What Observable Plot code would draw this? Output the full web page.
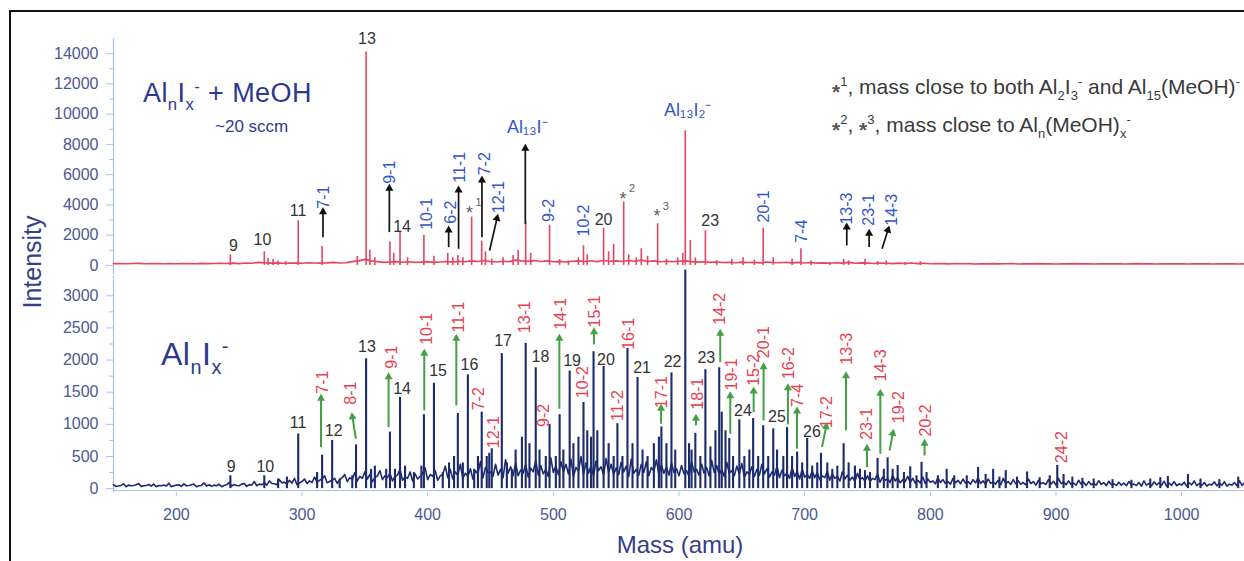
<!DOCTYPE html>
<html><head><meta charset="utf-8">
<script src="https://cdn.jsdelivr.net/npm/d3@7"></script>
<script src="https://cdn.jsdelivr.net/npm/@observablehq/plot@0.6"></script>
<style>
body{margin:0;background:#fff;}
#wrap{position:relative;width:1244px;height:561px;overflow:hidden;background:#fff;font-family:"Liberation Sans",Arial,sans-serif;}
.abs{position:absolute;white-space:nowrap;line-height:1;}
.sub{font-size:62%;position:relative;top:0.45em;}
.sup{font-size:62%;position:relative;top:-0.6em;}
.ast{position:relative;top:0.25em;font-weight:bold;color:#555;}
</style></head>
<body>
<div id="wrap">
  <div style="position:absolute;left:9px;top:10px;width:1400px;height:800px;border:2px solid #111;"></div>
  <div id="topPlot" style="position:absolute;left:0;top:0;width:1244px;"></div>
  <div id="bottomPlot" style="position:absolute;left:0;top:274px;width:1244px;"></div>
  <div class="abs" style="left:143px;top:80px;font-size:27px;color:#2b3a8c;letter-spacing:0.4px;">Al<span class="sub">n</span>I<span class="sub">x</span><span class="sup">-</span> + MeOH</div>
  <div class="abs" style="left:215px;top:118px;font-size:17px;color:#2b3a8c;">~20 sccm</div>
  <div class="abs" style="left:161px;top:338px;font-size:32px;color:#2b3a8c;letter-spacing:0.5px;">Al<span class="sub">n</span>I<span class="sub">x</span><span class="sup">-</span></div>
  <div class="abs" style="left:832px;top:76px;font-size:21px;color:#3a3a3a;"><span class="ast">*</span><span class="sup">1</span>, mass close to both Al<span class="sub">2</span>I<span class="sub">3</span><span class="sup">-</span> and Al<span class="sub">15</span>(MeOH)<span class="sup">-</span></div>
  <div class="abs" style="left:832px;top:114px;font-size:21px;color:#3a3a3a;"><span class="ast">*</span><span class="sup">2</span>, <span class="ast">*</span><span class="sup">3</span>, mass close to Al<span class="sub">n</span>(MeOH)<span class="sub">x</span><span class="sup">-</span></div>
  <div class="abs" style="left:680px;top:533px;font-size:24px;color:#34408a;transform:translateX(-50%);">Mass (amu)</div>
  <div class="abs" style="left:32px;top:262px;font-size:25px;color:#34408a;transform:translate(-50%,-50%) rotate(-90deg);">Intensity</div>
</div>
<script>
// ---------- data ----------
const massTicks = [200, 300, 400, 500, 600, 700, 800, 900, 1000];
const topTicks = [0, 2000, 4000, 6000, 8000, 10000, 12000, 14000];
const topMinorTicks = [1000, 3000, 5000, 7000, 9000, 11000, 13000];
const bottomTicks = [0, 500, 1000, 1500, 2000, 2500, 3000];
const bottomMinorTicks = [250, 750, 1250, 1750, 2250, 2750];

// top spectrum (AlnIx- + MeOH): peak masses and heights
const topPeakMass = [243, 270, 273, 277, 281, 287, 297, 316, 344, 351, 354, 358, 370, 373, 378, 384, 397, 405, 416, 420, 424, 428, 435, 443, 446, 451, 460, 468, 472, 478, 482, 497, 505, 512, 520, 524, 527, 540, 544, 548, 556, 560, 566, 570, 575, 583, 590, 599, 603, 605, 609, 613, 621, 630, 642, 651, 660, 667, 675, 690, 697, 705, 720, 731, 735, 748, 758, 765, 780, 792];
const topPeakHeight = [700, 900, 450, 400, 300, 250, 2950, 1250, 600, 14100, 1000, 500, 1550, 800, 2200, 500, 2000, 600, 800, 500, 650, 500, 3200, 1600, 900, 400, 500, 650, 1000, 2850, 800, 2650, 400, 300, 500, 1300, 700, 2450, 900, 1400, 4200, 700, 500, 1100, 600, 2750, 400, 500, 800, 8900, 1650, 500, 2300, 300, 400, 500, 350, 2450, 500, 400, 1100, 300, 200, 400, 300, 400, 250, 300, 200, 250];
// top baseline, one value every 5 amu from 150
const topNoise = [120, 130, 110, 125, 135, 115, 120, 130, 110, 125,
  115, 130, 120, 110, 135, 120, 125, 140, 130, 150,
  120, 160, 140, 200, 180, 150, 170, 140, 160, 150,
  140, 180, 160, 150, 170, 200, 160, 180, 250, 300,
  400, 300, 250, 200, 230, 250, 210, 240, 200, 220,
  250, 200, 230, 260, 220, 280, 240, 300, 260, 320,
  260, 230, 280, 250, 350, 300, 270, 320, 260, 300,
  240, 270, 230, 280, 300, 260, 310, 250, 330, 280,
  300, 260, 320, 280, 350, 260, 300, 240, 280, 250,
  280, 300, 250, 220, 240, 200, 230, 190, 210, 180,
  220, 190, 200, 170, 230, 190, 180, 210, 170, 200,
  160, 190, 150, 170, 140, 180, 150, 200, 140, 170,
  150, 130, 160, 140, 120, 150, 130, 160, 120, 140,
  110, 130, 120, 100, 125, 110, 120, 95, 115, 105,
  120, 100, 110, 125, 95, 115, 105, 120, 100, 110,
  95, 115, 105, 120, 100, 110, 95, 115, 105, 100,
  110, 95, 105, 120, 100, 110, 95, 105, 115, 100,
  105, 95, 115, 100, 110, 95, 105, 100, 110, 95,
  100];

// bottom spectrum (AlnIx-)
const bottomPeakMass = [243, 270, 281, 288, 297, 312, 316, 324, 330, 340, 343, 351, 355, 358, 367, 370, 374, 378, 382, 389, 395, 397, 405, 412, 417, 421, 424, 428, 432, 437, 440, 443, 447, 449, 451, 459, 463, 467, 470, 475, 478, 481, 486, 489, 494, 497, 502, 505, 508, 513, 516, 520, 524, 527, 530, 532, 535, 540, 544, 548, 551, 555, 559, 563, 567, 571, 575, 580, 584, 586, 590, 594, 597, 605, 608, 610, 613, 617, 621, 625, 629, 632, 634, 637, 640, 643, 648, 652, 656, 659, 663, 667, 671, 675, 678, 683, 686, 690, 694, 698, 702, 706, 710, 713, 718, 722, 726, 731, 735, 740, 744, 748, 752, 758, 763, 766, 770, 774, 779, 784, 789, 793, 797, 806, 813, 819, 829, 838, 844, 850, 855, 860, 869, 877, 887, 895, 901, 906, 913, 921, 930, 945, 960, 975, 983, 989, 1005, 1015, 1030, 1045];
const bottomPeakHeight = [200, 200, 150, 180, 850, 250, 520, 750, 150, 200, 680, 2020, 300, 350, 300, 880, 300, 1420, 350, 250, 350, 1150, 1640, 250, 400, 500, 1170, 400, 1770, 300, 500, 1190, 500, 550, 620, 2100, 400, 300, 600, 800, 2260, 700, 1880, 600, 500, 1000, 500, 1150, 600, 1830, 700, 800, 1340, 900, 800, 2130, 900, 1900, 700, 500, 1010, 500, 2180, 700, 1730, 600, 500, 700, 800, 960, 700, 1800, 600, 3400, 700, 600, 860, 500, 1850, 650, 900, 1880, 1190, 900, 780, 500, 1070, 500, 600, 1090, 500, 980, 500, 930, 600, 500, 950, 500, 570, 400, 780, 350, 400, 550, 400, 300, 350, 700, 400, 350, 300, 280, 250, 470, 300, 480, 300, 360, 250, 340, 200, 410, 250, 200, 300, 200, 200, 330, 220, 300, 180, 280, 180, 260, 170, 200, 360, 220, 180, 160, 150, 140, 130, 150, 170, 190, 220, 150, 140, 180];
// bottom baseline, one value every 4 amu from 150
const bottomNoise = [60, 40, 75, 55, 50, 80, 45, 65, 70, 50,
  55, 85, 45, 60, 75, 50, 70, 45, 90, 60,
  55, 70, 50, 95, 65, 45, 80, 60, 110, 70,
  90, 120, 75, 140, 100, 130, 160, 90, 150, 120,
  180, 130, 200, 110, 160, 140, 220, 170, 250, 190,
  260, 220, 170, 280, 200, 240, 190, 300, 180, 260,
  230, 190, 320, 220, 280, 200, 350, 300, 260, 380,
  240, 310, 280, 420, 330, 260, 380, 300, 450, 340,
  400, 290, 380, 320, 440, 360, 300, 480, 350, 420,
  380, 460, 330, 500, 400, 360, 430, 340, 470, 380,
  320, 410, 350, 460, 300, 380, 420, 330, 450, 370,
  340, 400, 310, 360, 280, 420, 300, 380, 330, 440,
  360, 300, 410, 280, 350, 390, 260, 340, 300, 380,
  310, 260, 350, 290, 240, 330, 270, 300, 220, 280,
  250, 200, 270, 230, 190, 260, 210, 180, 240, 170,
  200, 160, 230, 180, 150, 210, 170, 140, 190, 160,
  130, 180, 150, 120, 170, 140, 110, 160, 130, 150,
  110, 140, 170, 120, 150, 100, 130, 160, 110, 140,
  120, 95, 150, 110, 130, 90, 140, 115, 160, 100,
  120, 85, 130, 100, 110, 80, 125, 95, 115, 75,
  100, 85, 110, 70, 95, 120, 80, 105, 90, 115,
  85, 110, 75, 100, 90, 120, 80, 95, 70, 105,
  85, 110, 70, 95, 120, 90];
// bottom baseline troughs, one value every 4 amu from 152 (between the values above)
const bottomNoiseTroughs = [35, 50, 30, 45, 60, 35, 50, 40, 30, 45,
  40, 30, 55, 35, 45, 60, 30, 50, 40, 35,
  45, 30, 60, 40, 50, 70, 35, 55, 45, 60,
  55, 80, 60, 90, 70, 85, 60, 110, 80, 95,
  100, 150, 90, 130, 80, 170, 110, 140, 120, 160,
  150, 110, 200, 140, 170, 120, 210, 130, 160, 120,
  150, 240, 140, 190, 130, 220, 170, 150, 210, 160,
  190, 150, 230, 170, 250, 190, 210, 170, 240, 200,
  200, 240, 180, 260, 210, 230, 190, 250, 220, 260,
  230, 190, 270, 220, 240, 200, 280, 210, 250, 220,
  220, 260, 190, 240, 210, 250, 200, 270, 220, 240,
  210, 250, 200, 230, 190, 260, 210, 240, 200, 250,
  220, 190, 240, 200, 230, 180, 220, 190, 210, 230,
  180, 210, 170, 200, 160, 190, 150, 180, 160, 170,
  140, 170, 130, 160, 120, 150, 130, 110, 140, 120,
  110, 140, 100, 130, 95, 120, 90, 110, 100, 85,
  90, 80, 100, 75, 95, 80, 70, 90, 75, 85,
  70, 90, 80, 65, 85, 70, 60, 80, 65, 75,
  70, 60, 80, 55, 75, 65, 70, 55, 80, 60,
  65, 55, 70, 50, 60, 55, 65, 45, 60, 50,
  55, 45, 60, 50, 40, 55, 45, 60, 50, 40,
  50, 45, 55, 40, 60, 45, 50, 40, 55, 45,
  50, 40, 55, 45, 50];

// annotations: [text, mass, intensity]
const topClusterLabels = [["9", 245.4, 1320], ["10", 268.5, 1700], ["11", 296.8, 3630], ["13", 351.7, 14990], ["14", 379.6, 2580], ["20", 540, 3020], ["23", 624.8, 2970]];
const topAdductLabels = [["7-1", 317.2, 4510], ["9-1", 370.2, 6160], ["10-1", 399.4, 3410], ["6-2", 418.5, 3520], ["11-1", 425.4, 6490], ["7-2", 445.8, 6720], ["12-1", 457, 4510], ["9-2", 496.2, 3630], ["10-2", 524, 2970], ["20-1", 667.8, 3900], ["7-4", 697.8, 2260], ["13-3", 733.6, 3760], ["23-1", 750.8, 3680], ["14-3", 769.4, 3680]];
const topFormulaLabels = [["Al₁₃I⁻", 479.3, 9130], ["Al₁₃I₂⁻", 607, 10240]];
const topStarLabels = [["*", 433.3, 3807], ["*", 555.4, 4733], ["*", 582.4, 3583]];
const topStarIndex = [["1", 440.5, 4178], ["2", 562.6, 5083], ["3", 589.6, 3893]];
// arrows: [mass1, intensity1, mass2, intensity2] (tail -> tip)
const topArrows = [[316.7, 1870, 316.7, 3850], [369.5, 2200, 369.5, 5395], [416.7, 1210, 416.7, 2640], [424.6, 1100, 424.6, 5280], [443.2, 1870, 443.2, 5940], [449.3, 990, 456.0, 3410], [477.7, 2750, 477.7, 8040], [733.5, 1320, 733.5, 2840], [751.3, 1210, 751.3, 2420], [761.6, 1100, 767.4, 2640]];

const bottomClusterLabels = [["9", 243.7, 345], ["10", 270.8, 345], ["11", 296.8, 1019], ["12", 325.2, 894], ["13", 351.7, 2212], ["14", 379.6, 1554], ["15", 408.3, 1838], ["16", 433.2, 1932], ["17", 460, 2305], ["18", 489.7, 2045], ["19", 514.9, 1994], ["20", 541.9, 2010], ["21", 570.6, 1881], ["22", 594.9, 1968], ["23", 621.7, 2030], ["24", 650.9, 1216], ["25", 677.9, 1112], ["26", 705.8, 879]];
const bottomAdductLabels = [["7-1", 316.4, 1657], ["8-1", 339, 1485], ["9-1", 371.6, 2045], ["10-1", 399.6, 2487], ["11-1", 424.6, 2668], ["7-2", 440.5, 1398], ["12-1", 453, 879], ["13-1", 477, 2668], ["9-2", 492.3, 1139], ["14-1", 506.1, 2720], ["10-2", 523.3, 1657], ["15-1", 532.8, 2756], ["11-2", 551.4, 1294], ["16-1", 559.9, 2409], ["17-1", 586.5, 1501], ["18-1", 615.1, 1476], ["14-2", 632.9, 2798], ["19-1", 642.2, 1776], ["15-2", 659.4, 1849], ["20-1", 667.9, 2279], ["16-2", 687.2, 1952], ["7-4", 694.4, 1450], ["17-2", 717.8, 1190], ["13-3", 733.7, 2176], ["23-1", 749.6, 1009], ["14-3", 761, 1916], ["19-2", 774.8, 1268], ["20-2", 796.1, 1061], ["24-2", 904.7, 646]];
const bottomArrows = [[315.1, 646, 315.1, 1476], [342.9, 776, 339.5, 1190], [368.9, 957, 368.9, 1812], [397.3, 1216, 397.3, 2176], [422.8, 1294, 422.8, 2409], [504.8, 1243, 504.8, 2409], [532.4, 2243, 532.4, 2512], [585.7, 1009, 585.7, 1321], [613.5, 983, 613.5, 1165], [632.8, 1968, 632.8, 2487], [640.8, 854, 640.8, 1517], [659.4, 1190, 659.4, 1590], [667.3, 1061, 667.3, 1968], [686.7, 999, 686.7, 1641], [693.9, 621, 693.9, 1279], [713.8, 646, 717.8, 1034], [732.9, 905, 732.9, 1828], [749.6, 334, 749.6, 698], [760.2, 543, 760.2, 1554], [767.6, 594, 770.8, 932], [795.4, 516, 795.4, 776]];

// ---------- styles / layout ----------
const font = "Liberation Sans, Arial, sans-serif";
const axisBlue = "#a9c2ea";
const tickText = "#4a5894";
const redTrace = "#e6455f";
const navyTrace = "#1c2a6e";
const labelBlue = "#3355cc";
const labelRed = "#e8404f";
const arrowGreen = "#45a045";
const numGray = "#333333";
const fmt = d3.format("d");
const xDomain = [150, 1050];
const W = 1244, ML = 113;
const topDomain = [-600, 15000], topH = 274, topMT = 38;
const botDomain = [-60, 3300], botH = 287, botMT = 2, botMB = 69;

const xS = Plot.scale({x: {domain: xDomain, range: [ML, W]}});
const yTopS = Plot.scale({y: {domain: topDomain, range: [topH, topMT]}});
const yBotS = Plot.scale({y: {domain: botDomain, range: [botH - botMB, botMT]}});

// filled triangular arrow heads: shaft ends at triangle centroid, tip at the arrow end
const HEAD = 4.7;
function arrowParts(arrows, yS) {
  return arrows.map(([m1, v1, m2, v2]) => {
    const px1 = xS.apply(m1), py1 = yS.apply(v1), px2 = xS.apply(m2), py2 = yS.apply(v2);
    const len = Math.hypot(px2 - px1, py2 - py1), ux = (px2 - px1) / len, uy = (py2 - py1) / len;
    return {m1, v1, m: xS.invert(px2 - ux * HEAD), v: yS.invert(py2 - uy * HEAD),
            angle: Math.atan2(ux, -uy) * 180 / Math.PI};
  });
}
const topArrowParts = arrowParts(topArrows, yTopS);
const bottomArrowParts = arrowParts(bottomArrows, yBotS);

const topNoiseData = topNoise.map((v, i) => ({mass: 150 + 5 * i, value: v}));
const topPeaks = topPeakMass.map((m, i) => ({mass: m, value: topPeakHeight[i]}));
const bottomNoiseData = bottomNoise.map((v, i) => ({mass: 150 + 4 * i, value: v}))
  .concat(bottomNoiseTroughs.map((v, i) => ({mass: 152 + 4 * i, value: v})))
  .sort((a, b) => a.mass - b.mass);
const bottomPeaks = bottomPeakMass.map((m, i) => ({mass: m, value: bottomPeakHeight[i]}));

const T = {x: d => d[1], y: d => d[2], text: d => d[0]};

const topChart = Plot.plot({
  width: W, height: topH,
  marginLeft: ML, marginRight: 0, marginTop: topMT, marginBottom: 0,
  style: {background: "none", overflow: "visible", fontFamily: font},
  x: {domain: xDomain, axis: null},
  y: {domain: topDomain},
  marks: [
    Plot.ruleX([150], {y1: topDomain[0], y2: topDomain[1], stroke: axisBlue, strokeWidth: 1.2}),
    Plot.axisY({ticks: topTicks, tickFormat: fmt, tickSize: 7, tickPadding: 8, stroke: axisBlue, fill: tickText, fontSize: 16, label: null}),
    Plot.axisY({ticks: topMinorTicks, tickSize: 4, stroke: axisBlue, tickFormat: () => "", label: null}),
    Plot.line(topNoiseData, {x: "mass", y: "value", stroke: redTrace, strokeWidth: 1.6}),
    Plot.ruleX(topPeaks, {x: "mass", y1: 0, y2: "value", stroke: redTrace, strokeWidth: 1.6}),
    Plot.link(topArrowParts, {x1: "m1", y1: "v1", x2: "m", y2: "v", stroke: "#111", strokeWidth: 1.7}),
    Plot.dot(topArrowParts, {x: "m", y: "v", symbol: "triangle", r: 3, fill: "#111", stroke: null, rotate: "angle"}),
    Plot.text(topClusterLabels, {...T, fill: numGray, fontSize: 16}),
    Plot.text(topAdductLabels, {...T, rotate: -90, fill: labelBlue, fontSize: 16}),
    Plot.text(topFormulaLabels, {...T, fill: labelBlue, fontSize: 18}),
    Plot.text(topStarLabels, {...T, fill: "#6a5d52", fontSize: 18, dy: 5}),
    Plot.text(topStarIndex, {...T, fill: "#6a5d52", fontSize: 11})
  ]
});
document.getElementById("topPlot").append(topChart);

const bottomChart = Plot.plot({
  width: W, height: botH,
  marginLeft: ML, marginRight: 0, marginTop: botMT, marginBottom: botMB,
  style: {background: "none", overflow: "visible", fontFamily: font},
  x: {domain: xDomain},
  y: {domain: botDomain},
  marks: [
    Plot.ruleX([150], {y1: botDomain[0], y2: botDomain[1], stroke: axisBlue, strokeWidth: 1.2}),
    Plot.ruleY([-30], {stroke: axisBlue, strokeWidth: 1}),
    Plot.axisY({ticks: bottomTicks, tickFormat: fmt, tickSize: 7, tickPadding: 8, stroke: axisBlue, fill: tickText, fontSize: 16, label: null}),
    Plot.axisY({ticks: bottomMinorTicks, tickSize: 4, stroke: axisBlue, tickFormat: () => "", label: null}),
    Plot.axisX({ticks: massTicks, tickFormat: fmt, tickSize: 4, tickPadding: 12, stroke: axisBlue, fill: tickText, fontSize: 16, label: null}),
    Plot.line(bottomNoiseData, {x: "mass", y: "value", stroke: navyTrace, strokeWidth: 1.6}),
    Plot.ruleX(bottomPeaks, {x: "mass", y1: 0, y2: "value", stroke: navyTrace, strokeWidth: 2.1}),
    Plot.link(bottomArrowParts, {x1: "m1", y1: "v1", x2: "m", y2: "v", stroke: arrowGreen, strokeWidth: 2}),
    Plot.dot(bottomArrowParts, {x: "m", y: "v", symbol: "triangle", r: 3, fill: arrowGreen, stroke: null, rotate: "angle"}),
    Plot.text(bottomClusterLabels, {...T, fill: numGray, fontSize: 16}),
    Plot.text(bottomAdductLabels, {...T, rotate: -90, fill: labelRed, fontSize: 16})
  ]
});
document.getElementById("bottomPlot").append(bottomChart);
</script>
</body></html>
